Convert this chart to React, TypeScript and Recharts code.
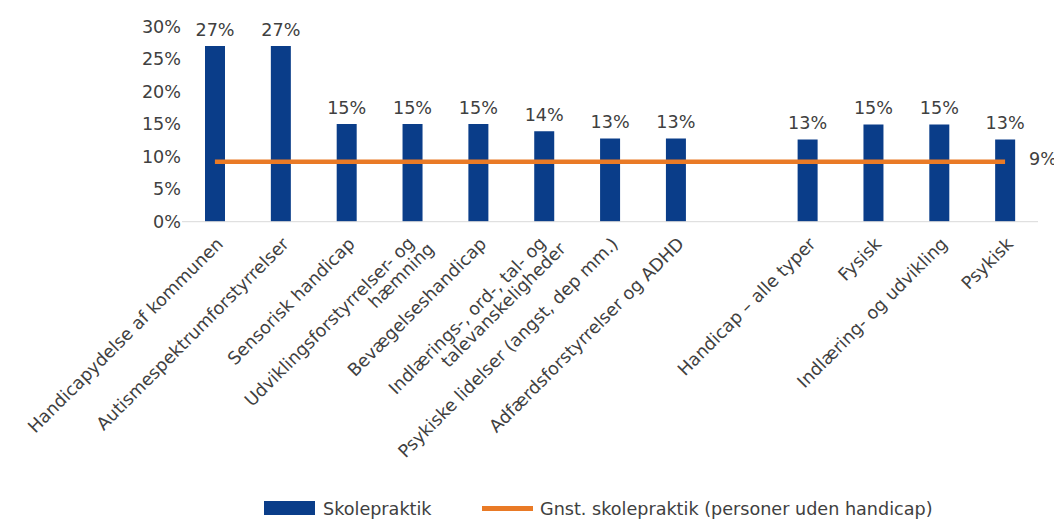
import React from 'react';
import { ComposedChart, Bar, Line, XAxis, YAxis, LabelList } from 'recharts';

const categories = [
  'Handicapydelse af kommunen',
  'Autismespektrumforstyrrelser',
  'Sensorisk handicap',
  'Udviklingsforstyrrelser- og\nhæmning',
  'Bevægelseshandicap',
  'Indlærings-, ord-, tal- og\ntalevanskeligheder',
  'Psykiske lidelser (angst, dep mm.)',
  'Adfærdsforstyrrelser og ADHD',
  '',
  'Handicap – alle typer',
  'Fysisk',
  'Indlæring- og udvikling',
  'Psykisk',
];
const skolepraktik: (number | null)[] = [27, 27, 15, 15, 15, 13.9, 12.8, 12.8, null, 12.65, 14.95, 14.95, 12.65];
const gnstSkolepraktik = [9.2, 9.2, 9.2, 9.2, 9.2, 9.2, 9.2, 9.2, 9.2, 9.2, 9.2, 9.2, 9.2];
const gnstLabels = ['', '', '', '', '', '', '', '', '', '', '', '', '9%'];
const yTicks = [0, 5, 10, 15, 20, 25, 30];

const FONT = '"DejaVu Sans", sans-serif';
const FS = 17.6;
const TEXT = '#404040';
const BLUE = '#0a3d89';
const ORANGE = '#e97a26';

const data = categories.map((name, i) => ({
  name,
  skole: skolepraktik[i],
  gnst: gnstSkolepraktik[i],
  gnstLabel: gnstLabels[i],
}));

const AxisTick = (props: any) => {
  const { x, y, payload } = props;
  const lines = String(payload.value).split('\n');
  return (
    <g transform={`translate(${x},${y}) rotate(-45)`}>
      {lines.length === 1 ? (
        <text x={-10} y={23} textAnchor="end" fill={TEXT} fontSize={FS} fontFamily={FONT}>
          {lines[0]}
        </text>
      ) : (
        <>
          <text x={-14} y={18} textAnchor="end" fill={TEXT} fontSize={FS} fontFamily={FONT}>
            {lines[0]}
          </text>
          <text x={-4} y={36} textAnchor="end" fill={TEXT} fontSize={FS} fontFamily={FONT}>
            {lines[1]}
          </text>
        </>
      )}
    </g>
  );
};

export default function App() {
  return (
    <div style={{ position: 'relative', width: 1054, height: 513, fontFamily: FONT }}>
      <ComposedChart
        width={1054}
        height={505}
        data={data}
        margin={{ top: 18.5, right: 24, left: 114, bottom: 41.3 }}
      >
        <XAxis
          dataKey="name"
          interval={0}
          height={250}
          tickSize={0}
          tickMargin={0}
          tickLine={false}
          axisLine={{ stroke: '#d9d9d9', strokeWidth: 1 }}
          tick={<AxisTick />}
        />
        <YAxis
          width={60}
          domain={[0, 30]}
          ticks={yTicks}
          interval={0}
          axisLine={false}
          tickLine={false}
          tickSize={0}
          tickMargin={1}
          tickFormatter={(v: number) => `${v}%`}
          tick={{ fill: TEXT, fontSize: FS, fontFamily: FONT }}
        />
        <Bar dataKey="skole" fill={BLUE} barSize={20} isAnimationActive={false}>
          <LabelList
            dataKey="skole"
            position="top"
            offset={10}
            fill={TEXT}
            fontSize={FS}
            fontFamily={FONT}
            formatter={(v: any) => (v == null ? '' : `${Math.round(Number(v))}%`)}
          />
        </Bar>
        <Line
          dataKey="gnst"
          stroke={ORANGE}
          strokeWidth={4.5}
          dot={false}
          activeDot={false}
          isAnimationActive={false}
        >
          <LabelList
            dataKey="gnstLabel"
            position="right"
            offset={24}
            dy={-3}
            fill={TEXT}
            fontSize={FS}
            fontFamily={FONT}
          />
        </Line>
      </ComposedChart>
      <div style={{ position: 'absolute', left: 256, top: 493, width: 51, height: 14, background: BLUE }} />
      <div
        style={{ position: 'absolute', left: 315, top: 490, fontSize: FS, color: TEXT, lineHeight: '22px', whiteSpace: 'nowrap' }}
      >
        Skolepraktik
      </div>
      <div style={{ position: 'absolute', left: 474, top: 498, width: 51, height: 4.5, background: ORANGE }} />
      <div
        style={{ position: 'absolute', left: 532, top: 490, fontSize: FS, color: TEXT, lineHeight: '22px', whiteSpace: 'nowrap' }}
      >
        Gnst. skolepraktik (personer uden handicap)
      </div>
    </div>
  );
}
